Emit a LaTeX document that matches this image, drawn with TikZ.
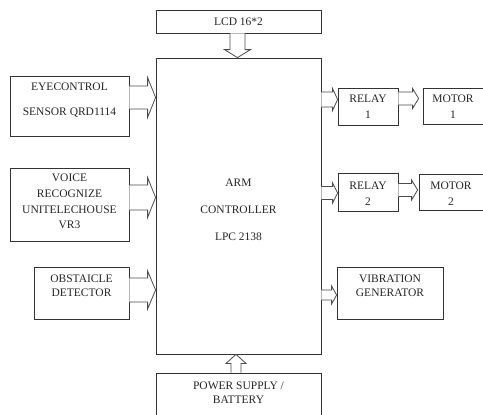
\documentclass[tikz,border=0pt]{standalone}
\usepackage{fontspec}
\setmainfont{Liberation Serif}
\usetikzlibrary{calc}
% horizontal block arrow: #1 start, #2 tip, #3 y reference, #4 shaft half width, #5 head half width, #6 head length
\newcommand\harrow[6]{\draw[blk] let \p1=#1, \p2=#2, \p3=#3 in
  (\x1,\y3+#4pt) -- (\x2-#6pt,\y3+#4pt) -- (\x2-#6pt,\y3+#5pt) -- (\x2,\y3)
  -- (\x2-#6pt,\y3-#5pt) -- (\x2-#6pt,\y3-#4pt) -- (\x1,\y3-#4pt);}
% vertical block arrow: #1 start, #2 tip, #3 x reference, #4 shaft half, #5 head half, #6 signed head length (canvas)
\newcommand\varrow[6]{\draw[blk] let \p1=#1, \p2=#2, \p3=#3 in
  (\x3-#4pt,\y1) -- (\x3-#4pt,\y2+#6pt) -- (\x3-#5pt,\y2+#6pt) -- (\x3,\y2)
  -- (\x3+#5pt,\y2+#6pt) -- (\x3+#4pt,\y2+#6pt) -- (\x3+#4pt,\y1);}
\begin{document}
\begin{tikzpicture}[x=1pt,y=-1pt,
  box/.style={draw=black!80, line width=0.8pt, rectangle, inner sep=0pt},
  lbl/.style={font=\fontsize{11.5}{14}\selectfont, text=black!85, align=center, inner sep=0pt},
  blk/.style={draw=black!70, line width=0.8pt, fill=white, line join=miter}]
\useasboundingbox (0,0) rectangle (483,415);
% boxes
\node[box, minimum width=165pt, minimum height=23pt] (lcd) at (238.5,21.5) {};
\node[box, minimum width=165pt, minimum height=296pt] (arm) at (238.5,206) {};
\node[box, minimum width=119pt, minimum height=60pt] (eye) at (69.5,106) {};
\node[box, minimum width=119pt, minimum height=73pt] (voice) at (69.5,204.5) {};
\node[box, minimum width=95pt, minimum height=52pt] (obst) at (81.5,293) {};
\node[box, minimum width=60pt, minimum height=37pt] (r1) at (368,106.5) {};
\node[box, minimum width=67pt, minimum height=36pt] (m1) at (456.5,106) {};
\node[box, minimum width=60pt, minimum height=38pt] (r2) at (368,192) {};
\node[box, minimum width=71pt, minimum height=36pt] (m2) at (454.5,192) {};
\node[box, minimum width=106pt, minimum height=52pt] (vib) at (390,293) {};
\node[box, minimum width=165pt, minimum height=57pt] (pow) at (238.5,401.5) {};
% texts
\node[lbl] (lcdt) at (238.5,22) {LCD 16*2};
\node[lbl, font=\fontsize{11.5}{27}\selectfont] (armt) at (238.5,210) {ARM\\CONTROLLER\\LPC 2138};
\node[lbl, font=\fontsize{11.5}{25}\selectfont] (eyet) at (69.5,100) {EYECONTROL\\SENSOR QRD1114};
\node[lbl, font=\fontsize{11.5}{15.7}\selectfont] (voicet) at (69.5,201.5) {VOICE\\RECOGNIZE\\UNITELECHOUSE\\VR3};
\node[lbl] (obstt) at (81.5,286) {OBSTAICLE\\DETECTOR};
\node[lbl, font=\fontsize{11.5}{16}\selectfont] (r1t) at (368,107) {RELAY\\1};
\node[lbl, font=\fontsize{11.5}{16}\selectfont] (m1t) at (453,107) {MOTOR\\1};
\node[lbl, font=\fontsize{11.5}{16.5}\selectfont] (r2t) at (368,193.5) {RELAY\\2};
\node[lbl, font=\fontsize{11.5}{16.5}\selectfont] (m2t) at (451,193.5) {MOTOR\\2};
\node[lbl] (vibt) at (390,286) {VIBRATION\\GENERATOR};
\node[lbl] (powt) at (238.5,393) {POWER SUPPLY /\\BATTERY};
% arrows
\varrow{(lcd.south)}{(arm.north)}{([xshift=-1pt]lcd.south)}{7.5}{13}{8}
\varrow{(pow.north)}{(arm.south)}{([xshift=-2.5pt]pow.north)}{5}{10}{-9}
\harrow{(eye.east)}{(arm.west)}{([yshift=8.5pt]eye.east)}{11.5}{20}{8}
\harrow{(voice.east)}{(arm.west)}{([yshift=7pt]voice.east)}{12.5}{20}{8}
\harrow{(obst.east)}{(arm.west)}{([yshift=3pt]obst.east)}{12}{19}{8}
\harrow{(arm.east)}{(r1.west)}{([yshift=7pt]r1.west)}{7.5}{11}{5}
\harrow{(r1.east)}{([xshift=-4pt]m1.west)}{([yshift=8pt]r1.east)}{6.5}{10}{6}
\harrow{(arm.east)}{(r2.west)}{([yshift=-1pt]r2.west)}{6.5}{10}{5}
\harrow{(r2.east)}{([xshift=-1pt]m2.west)}{([yshift=2pt]r2.east)}{6.5}{10}{6}
\harrow{(arm.east)}{(vib.west)}{([yshift=-2pt]vib.west)}{5}{9}{5}
\end{tikzpicture}
\end{document}
